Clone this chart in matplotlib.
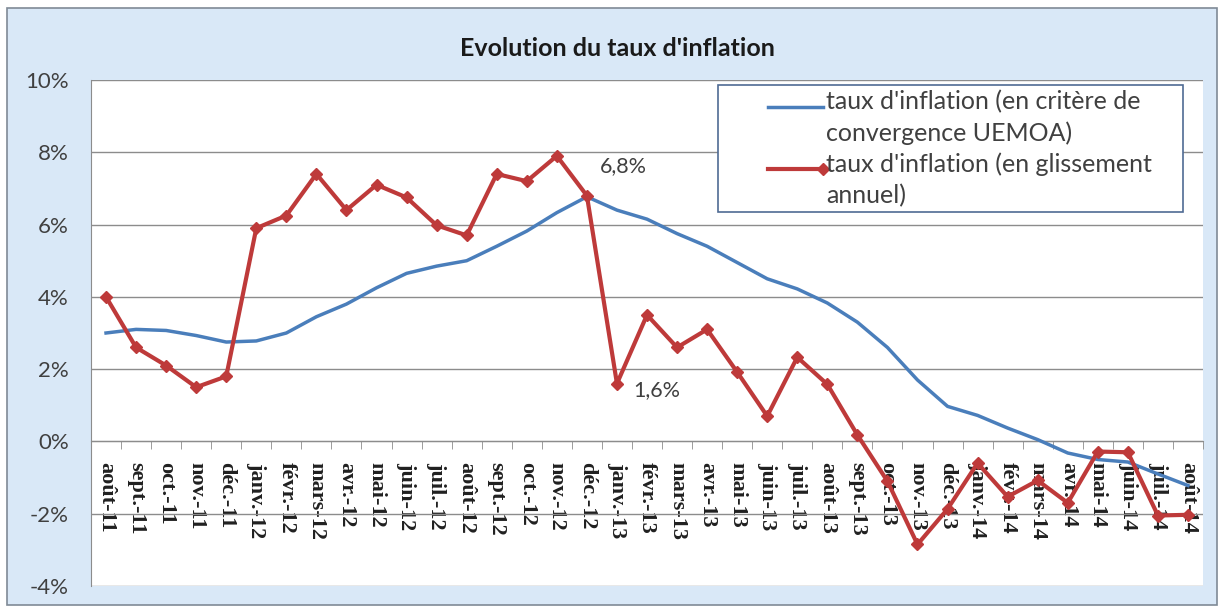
import numpy as np
import matplotlib.pyplot as plt
from matplotlib.patches import Rectangle
from matplotlib.legend_handler import HandlerLine2D
from matplotlib.ticker import FuncFormatter, FixedLocator

# Month labels (août 2011 -> août 2014)
months = ["août-11", "sept.-11", "oct.-11", "nov.-11", "déc.-11",
          "janv.-12", "févr.-12", "mars-12", "avr.-12", "mai-12", "juin-12",
          "juil.-12", "août-12", "sept.-12", "oct.-12", "nov.-12", "déc.-12",
          "janv.-13", "févr.-13", "mars-13", "avr.-13", "mai-13", "juin-13",
          "juil.-13", "août-13", "sept.-13", "oct.-13", "nov.-13", "déc.-13",
          "janv.-14", "févr.-14", "mars-14", "avr.-14", "mai-14", "juin-14",
          "juil.-14", "août-14"]

# Inflation rate, UEMOA convergence criterion (%)
uemoa = [3.0, 3.1, 3.07, 2.93, 2.75, 2.78, 3.0, 3.45, 3.8, 4.25, 4.65,
         4.85, 5.0, 5.4, 5.82, 6.33, 6.77, 6.4, 6.15, 5.75, 5.4, 4.95,
         4.5, 4.22, 3.83, 3.3, 2.6, 1.7, 0.97, 0.72, 0.37, 0.05, -0.32,
         -0.5, -0.57, -0.9, -1.22]

# Inflation rate, year-on-year (%)
glissement = [4.0, 2.6, 2.1, 1.5, 1.8, 5.9, 6.25, 7.4, 6.4, 7.1, 6.75,
              5.98, 5.7, 7.4, 7.2, 7.9, 6.8, 1.6, 3.5, 2.6, 3.1, 1.92,
              0.7, 2.33, 1.58, 0.18, -1.1, -2.85, -1.87, -0.6, -1.53, -1.08,
              -1.7, -0.28, -0.3, -2.05, -2.03]

blue = "#4a7ebb"
red = "#be3a3a"
txt = "#404040"


# legend handle aligned with the first text line, marker at the right end (Excel style)
class ExcelHandle(HandlerLine2D):
    def __init__(self, end_marker=False, dy=8, **kw):
        super().__init__(**kw)
        self.end_marker = end_marker
        self.dy = dy

    def create_artists(self, *args, **kwargs):
        arts = super().create_artists(*args, **kwargs)
        for a in arts:
            a.set_ydata(np.asarray(a.get_ydata()) + self.dy)
            if self.end_marker and a.get_marker() not in ("None", None, ""):
                a.set_markevery([2])
        return arts


W, H = 1223, 610
fig = plt.figure(figsize=(W / 100, H / 100), dpi=100)
fig.patch.set_facecolor("white")
fig.add_artist(Rectangle((7 / W, 1 - 605 / H), 1210 / W, 597 / H,
                         transform=fig.transFigure, facecolor="#d9e8f7",
                         edgecolor="#7f8a96", linewidth=1.2, zorder=-5))

ax = fig.add_axes([91 / W, 1 - 586 / H, 1112 / W, 506 / H])
ax.set_zorder(1)
ax.set_facecolor("white")

x = list(range(len(months)))
l1, = ax.plot(x, uemoa, color=blue, linewidth=2.5,
              label="taux d'inflation (en critère de\nconvergence UEMOA)", zorder=3)
l2, = ax.plot(x, glissement, color=red, linewidth=3, marker="D", markersize=6.5,
              label="taux d'inflation (en glissement\nannuel)", zorder=4)

ax.set_xlim(-0.5, len(months) - 0.5)
ax.set_ylim(-4, 10)
ax.set_yticks(range(-4, 11, 2))
ax.yaxis.set_major_formatter(FuncFormatter(lambda v, p: f"{int(v)}%"))
ax.grid(axis="y", color="#8c8c8c", linewidth=1)
ax.set_axisbelow(True)
for lbl in ax.get_yticklabels():
    lbl.set_fontfamily("Lato")
    lbl.set_fontsize(16)
    lbl.set_color(txt)
ax.tick_params(axis="y", length=0, pad=16)

# x-axis crossing at 0
ax.spines["bottom"].set_position(("data", 0))
ax.spines["bottom"].set_color("#8c8c8c")
ax.spines["left"].set_color("#8c8c8c")
ax.spines["top"].set_visible(False)
ax.spines["right"].set_visible(False)
ax.set_xticks(x)
ax.set_xticklabels(months, rotation=-90, fontfamily="Liberation Serif",
                   fontsize=16, fontweight="bold", color="#202020", va="top")
ax.tick_params(axis="x", length=0, pad=15)
ax.xaxis.set_minor_locator(FixedLocator([i - 0.5 for i in range(len(months) + 1)]))
ax.tick_params(axis="x", which="minor", length=6, color="#8c8c8c", direction="out")

ax.annotate("6,8%", (16, glissement[16]), xytext=(9, 14), textcoords="offset points",
            fontsize=15.5, color=txt, fontfamily="Lato", va="bottom")
ax.annotate("1,6%", (17, glissement[17]), xytext=(12, -5), textcoords="offset points",
            fontsize=15.5, color=txt, fontfamily="Lato", va="center")

fig.text(617 / W, 1 - 48 / H, "Evolution du taux d'inflation", ha="center", va="center",
         fontsize=18, fontweight="bold", fontfamily="Lato", color="#1a1a1a")

# legend: frame drawn separately to get the wide left margin
ax.add_artist(Rectangle((718 / W, 1 - 212 / H), 465 / W, 127 / H,
                        transform=fig.transFigure, facecolor="white",
                        edgecolor="#4f6b94", linewidth=1.2, zorder=4.8))
leg = ax.legend(handles=[l1, l2], loc="upper left",
                bbox_to_anchor=(768 / W, 1 - 90 / H), bbox_transform=fig.transFigure,
                frameon=False, prop={"family": "Lato", "size": 18}, handlelength=2.2,
                handletextpad=0.12, borderpad=0, labelspacing=0.3,
                borderaxespad=0,
                handler_map={l1: ExcelHandle(), l2: ExcelHandle(end_marker=True)})
leg.set_zorder(6)
for t in leg.get_texts():
    t.set_color(txt)
    t.set_linespacing(1.4)

fig.savefig("out.png", dpi=100, facecolor=fig.get_facecolor())
